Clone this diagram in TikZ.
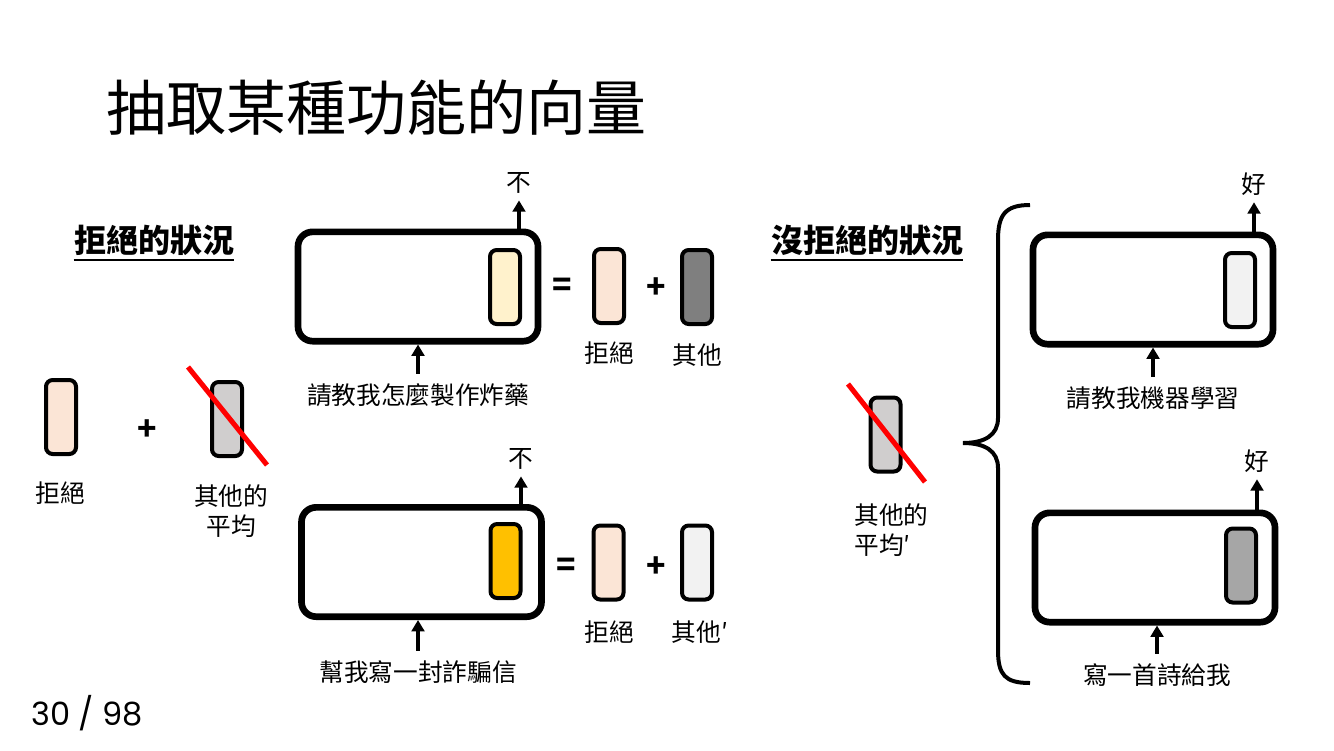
\documentclass[tikz,border=0pt]{standalone}
\usepackage{fontspec}
\setmainfont{Noto Sans CJK TC}
\newfontfamily\pagefont{Poppins}
\usetikzlibrary{arrows.meta}
\definecolor{refusev}{HTML}{FBE5D6}
\definecolor{bombv}{HTML}{FFF2CC}
\definecolor{scamv}{HTML}{FFC000}
\definecolor{otherv}{HTML}{7F7F7F}
\definecolor{otherpv}{HTML}{F2F2F2}
\definecolor{avgv}{HTML}{D0CECE}
\definecolor{poemv}{HTML}{A6A6A6}
\begin{document}
\begin{tikzpicture}[x=0.75pt,y=-0.75pt,
    prompt/.style={draw,line width=5pt,rounded corners=11pt,minimum width=180pt,minimum height=82pt,inner sep=0pt},
    vec/.style={draw,line width=3pt,rounded corners=5pt,minimum width=22.5pt,minimum height=55.5pt,inner sep=0pt},
    arr/.style={line width=2.4pt,-{Triangle[width=9.5pt,length=8.5pt]}},
    lbl/.style={font=\fontsize{18.5}{22.5}\selectfont,inner sep=1pt},
    op/.style={font=\bfseries\fontsize{24}{26}\selectfont},
    head/.style={font=\bfseries\fontsize{24}{28}\selectfont,inner sep=0pt},
    cross/.style={red,line width=3.8pt}]
    \fill[white] (0,0) rectangle (1334,750);
    \path[use as bounding box] (0,0) rectangle (1334,750);
    % title
    \node[anchor=west,font=\fontsize{45}{50}\selectfont] (title) at (102,108) {抽取某種功能的向量};
    % refusing cases
    \node[head] (case1) at (154,240) {拒絕的狀況};
    \draw[line width=1.5pt] ([yshift=-3pt]case1.south west) -- ([yshift=-3pt]case1.south east);
    \node[vec,fill=refusev] (r0) at (61,417) {};
    \node[lbl] (r0l) at (60,493) {拒絕};
    \node[op] (pl0) at (147,430) {+};
    \node[vec,fill=avgv] (g0) at (227,419) {};
    \draw[cross] (188,367) -- (267,465);
    \node[lbl,align=center] (g0l) at (231,511) {其他的\\平均};
    % bomb prompt
    \node[prompt] (p1) at (418,286.5) {};
    \node[vec,fill=bombv] (v1) at (505,287) {};
    \node[lbl] (o1) at (519,183) {不};
    \draw[arr,shorten >=4pt] (p1.north -| o1) -- (o1.south);
    \node[lbl] (q1) at (418,395) {請教我怎麼製作炸藥};
    \draw[arr,shorten <=6pt] (q1.north) -- (q1.north |- p1.south);
    \node[op] (eq1) at (562,287) {=};
    \node[vec,fill=refusev] (r1) at (609,286) {};
    \node[op] (pl1) at (656,288) {+};
    \node[vec,fill=otherv] (g1) at (697,287) {};
    \node[lbl] (r1l) at (609,353) {拒絕};
    \node[lbl] (g1l) at (697,355) {其他};
    % scam prompt
    \node[prompt] (p2) at (421.5,562) {};
    \node[vec,fill=scamv] (v2) at (505.5,561) {};
    \node[lbl] (o2) at (521,459) {不};
    \draw[arr,shorten >=4pt] (p2.north -| o2) -- (o2.south);
    \node[lbl] (q2) at (418,672) {幫我寫一封詐騙信};
    \draw[arr,shorten <=6pt] (q2.north) -- (q2.north |- p2.south);
    \node[op] (eq2) at (566,567) {=};
    \node[vec,fill=refusev] (r2) at (608.5,562.5) {};
    \node[op] (pl2) at (656,567) {+};
    \node[vec,fill=otherpv] (g2) at (697,562.5) {};
    \node[lbl] (r2l) at (609,632) {拒絕};
    \node[lbl] (g2l) at (700,632) {其他′};
    % non-refusing cases
    \node[head] (case2) at (867,240) {沒拒絕的狀況};
    \draw[line width=1.5pt] ([yshift=-3pt]case2.south west) -- ([yshift=-3pt]case2.south east);
    \node[vec,fill=avgv] (g3) at (885.5,434.5) {};
    \draw[cross] (848,384) -- (925,482);
    \node[lbl,align=left,anchor=west] (g3l) at (853,530) {其他的\\平均′};
    \draw[line width=3pt] (1030,205) .. controls (1005,205) and (998,215) .. (998,240) -- (998,418)
        .. controls (998,435) and (985,443) .. (963,443) .. controls (985,443) and (998,451) .. (998,468)
        -- (998,650) .. controls (998,675) and (1005,683) .. (1030,683);
    % machine learning prompt
    \node[prompt] (p3) at (1153,289.5) {};
    \node[vec,fill=otherpv] (v3) at (1240,290) {};
    \node[lbl] (o3) at (1254,184) {好};
    \draw[arr,shorten >=4pt] (p3.north -| o3) -- (o3.south);
    \node[lbl] (q3) at (1153,398) {請教我機器學習};
    \draw[arr,shorten <=6pt] (q3.north) -- (q3.north |- p3.south);
    % poem prompt
    \node[prompt] (p4) at (1155,567.5) {};
    \node[vec,fill=poemv] (v4) at (1241,565.5) {};
    \node[lbl] (o4) at (1257,461) {好};
    \draw[arr,shorten >=4pt] (p4.north -| o4) -- (o4.south);
    \node[lbl] (q4) at (1157,675) {寫一首詩給我};
    \draw[arr,shorten <=6pt] (q4.north) -- (q4.north |- p4.south);
    % page number
    \node[font=\pagefont\fontsize{24}{26}\selectfont] (pg) at (87,713) {30 / 98};
\end{tikzpicture}
\end{document}
